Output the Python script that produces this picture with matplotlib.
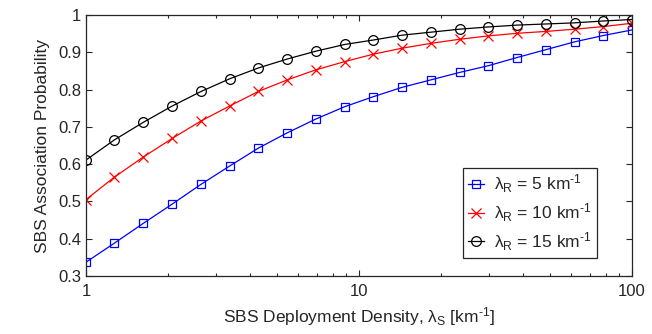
import matplotlib
matplotlib.use("Agg")
import matplotlib.pyplot as plt
from matplotlib.ticker import LogLocator, NullFormatter, FixedLocator

plt.rcParams['font.family'] = ['Liberation Sans', 'DejaVu Sans']
plt.rcParams['mathtext.default'] = 'regular'

# SBS deployment density (km^-1)
density = [1.00, 1.27, 1.62, 2.07, 2.64, 3.36, 4.28, 5.46, 6.95, 8.86,
           11.29, 14.38, 18.33, 23.36, 29.76, 37.93, 48.33, 61.58, 78.48, 100.0]

# association probability for each relay density
prob_r5 = [0.337, 0.388, 0.441, 0.493, 0.546, 0.595, 0.643, 0.684, 0.721, 0.754,
           0.781, 0.806, 0.826, 0.846, 0.864, 0.886, 0.907, 0.928, 0.945, 0.960]
prob_r10 = [0.505, 0.565, 0.619, 0.669, 0.716, 0.756, 0.795, 0.826, 0.853, 0.875,
            0.895, 0.911, 0.924, 0.935, 0.944, 0.951, 0.956, 0.962, 0.969, 0.978]
prob_r15 = [0.611, 0.665, 0.712, 0.756, 0.795, 0.829, 0.858, 0.882, 0.903, 0.921,
            0.933, 0.946, 0.954, 0.962, 0.968, 0.973, 0.976, 0.979, 0.984, 0.988]

labels = [r'$\lambda_R$ = 5 km$^{‐1}$', r'$\lambda_R$ = 10 km$^{‐1}$', r'$\lambda_R$ = 15 km$^{‐1}$']
yticks = [0.3, 0.4, 0.5, 0.6, 0.7, 0.8, 0.9, 1.0]
ytick_labels = ['0.3', '0.4', '0.5', '0.6', '0.7', '0.8', '0.9', '1']
xticks = [1, 10, 100]
xtick_labels = ['1', '10', '100']

axis_color = '#262626'

fig = plt.figure(figsize=(6.52, 3.34), dpi=100)
ax = fig.add_axes([0.1319, 0.1737, 0.8374, 0.7813])

ax.plot(density, prob_r5, color='#0000ff', marker='s', markersize=5.5,
        markerfacecolor='none', markeredgewidth=0.9, linewidth=0.9, label=labels[0])
ax.plot(density, prob_r10, color='#ff0000', marker='x', markersize=6.5,
        markeredgewidth=0.9, linewidth=0.9, label=labels[1])
ax.plot(density, prob_r15, color='black', marker='o', markersize=7,
        markerfacecolor='none', markeredgewidth=0.9, linewidth=0.9, label=labels[2])

ax.set_xscale('log')
ax.set_xlim(1, 100)
ax.set_ylim(0.3, 1.0)
ax.xaxis.set_major_locator(FixedLocator(xticks))
ax.set_xticklabels(xtick_labels)
ax.xaxis.set_minor_locator(LogLocator(base=10, subs=range(2, 10)))
ax.xaxis.set_minor_formatter(NullFormatter())
ax.set_yticks(yticks)
ax.set_yticklabels(ytick_labels)

ax.tick_params(which='both', direction='in', top=True, right=True,
               colors=axis_color, labelsize=12, width=0.8)
ax.tick_params(which='major', length=4)
ax.tick_params(which='minor', length=2.5)
ax.tick_params(axis='x', pad=6)
for sp in ax.spines.values():
    sp.set_color(axis_color)
    sp.set_linewidth(0.9)

ax.set_xlabel(r'SBS Deployment Density, $\lambda_S$ [km$^{‐1}$]', fontsize=12.5,
              color=axis_color, labelpad=4)
ax.set_ylabel('SBS Association Probability', fontsize=12.5, color=axis_color, labelpad=6)

leg = ax.legend(loc='lower right', bbox_to_anchor=(0.936, 0.069), borderaxespad=0,
                fontsize=12.5, handlelength=0.9, handletextpad=0.6, labelspacing=0.35,
                fancybox=False, edgecolor=axis_color, framealpha=1, borderpad=0.3)
leg.get_frame().set_linewidth(0.9)
for t in leg.get_texts():
    t.set_color(axis_color)

fig.savefig('out.png', dpi=100)
